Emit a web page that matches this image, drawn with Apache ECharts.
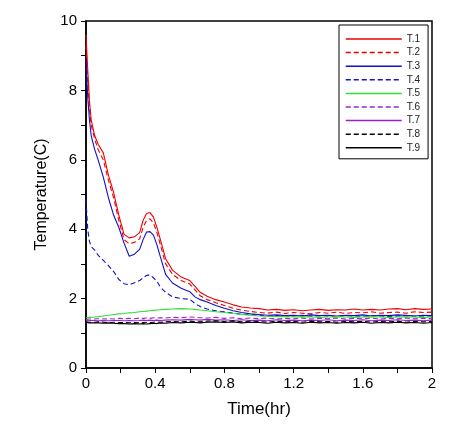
<!DOCTYPE html>
<html><head><meta charset="utf-8">
<script src="https://cdn.jsdelivr.net/npm/echarts@6/dist/echarts.min.js"></script>
<style>html,body{margin:0;padding:0;background:#fff}#c{width:471px;height:426px}</style>
</head><body><div id="c"></div>
<script>
var timeHr = [0,0.01,0.02,0.03,0.05,0.07,0.1,0.13,0.16,0.19,0.22,0.25,0.28,0.31,0.33,0.35,0.37,0.39,0.41,0.43,0.46,0.5,0.55,0.6,0.63,0.66,0.7,0.75,0.8,0.85,0.9,0.95,1.0,1.05,1.1,1.15,1.2,1.25,1.3,1.35,1.4,1.45,1.5,1.55,1.6,1.65,1.7,1.75,1.8,1.85,1.9,1.95,2.0];
var T1 = [9.6,8.6,7.7,7.15,6.7,6.45,6.2,5.55,5.05,4.4, 3.85,3.75,3.78,3.9,4.25,4.45,4.48,4.35,4.05,3.7, 3.15,2.82,2.62,2.52,2.35,2.18,2.07,1.97,1.9,1.82, 1.76,1.73, 1.71,1.67,1.69,1.66,1.68,1.65,1.67,1.69,1.66,1.68,1.67,1.7,1.67,1.69,1.67,1.7,1.71,1.68,1.71,1.69,1.7];
var T2 = [9.3,8.3,7.5,7.0,6.6,6.3,6.0,5.4,4.9,4.25, 3.7,3.58,3.62,3.72,4.05,4.25,4.3,4.18,3.9,3.55, 3.0,2.7,2.52,2.42,2.25,2.08,1.97,1.88,1.8,1.72, 1.67,1.63, 1.6,1.58,1.61,1.57,1.6,1.58,1.56,1.6,1.58,1.61,1.57,1.6,1.59,1.62,1.58,1.6,1.61,1.58,1.62,1.6,1.61];
var T3 = [8.9,7.8,7.15,6.7,6.3,6.0,5.5,4.9,4.4,4.05, 3.6,3.22,3.28,3.42,3.7,3.92,3.93,3.83,3.55,3.2, 2.7,2.45,2.3,2.2,2.05,1.97,1.9,1.8,1.72,1.65, 1.6,1.56, 1.54,1.52,1.53,1.51,1.52,1.5,1.53,1.51,1.52,1.5,1.52,1.51,1.53,1.5,1.52,1.51,1.53,1.52,1.5,1.52,1.51];
var T4 = [4.85,4.0,3.65,3.5,3.4,3.25,3.1,2.95,2.78,2.55, 2.43,2.4,2.46,2.52,2.6,2.67,2.68,2.6,2.5,2.33, 2.18,2.05,2.0,1.98,1.86,1.77,1.7,1.65,1.62,1.58, 1.55,1.53, 1.52,1.5,1.51,1.49,1.5,1.52,1.49,1.51,1.5,1.48,1.51,1.5,1.49,1.51,1.5,1.48,1.5,1.51,1.49,1.5,1.5];
var T5 = [1.45,1.45,1.46,1.46,1.47,1.48,1.5,1.52,1.54,1.56, 1.57,1.59,1.6,1.62,1.63,1.64,1.65,1.66,1.67,1.68, 1.69,1.7,1.71,1.7,1.69,1.67,1.65,1.62,1.6,1.57, 1.55,1.52, 1.5,1.49,1.48,1.48,1.47,1.48,1.47,1.46,1.47,1.48,1.47,1.46,1.47,1.48,1.47,1.46,1.47,1.48,1.47,1.46,1.47];
var T6 = [1.4,1.4,1.41,1.4,1.41,1.42,1.41,1.42,1.41,1.43, 1.42,1.43,1.42,1.44,1.43,1.44,1.43,1.45,1.44,1.45, 1.44,1.46,1.45,1.47,1.46,1.45,1.44,1.46,1.43,1.45, 1.42,1.44, 1.42,1.44,1.41,1.43,1.42,1.44,1.41,1.43,1.42,1.44,1.41,1.43,1.42,1.44,1.41,1.43,1.42,1.44,1.42,1.43,1.42];
var T7 = [1.36,1.36,1.37,1.36,1.37,1.36,1.37,1.36,1.37,1.37, 1.36,1.37,1.36,1.37,1.38,1.37,1.38,1.37,1.38,1.37, 1.38,1.39,1.38,1.4,1.39,1.38,1.4,1.38,1.39,1.37, 1.39,1.37, 1.38,1.36,1.39,1.37,1.38,1.36,1.38,1.37,1.39,1.36,1.38,1.37,1.39,1.36,1.38,1.37,1.39,1.37,1.38,1.36,1.38];
var T8 = [1.33,1.33,1.32,1.33,1.32,1.33,1.32,1.31,1.32,1.31, 1.31,1.3,1.31,1.3,1.31,1.32,1.31,1.32,1.33,1.32, 1.33,1.34,1.33,1.35,1.34,1.33,1.35,1.36,1.34,1.36, 1.33,1.35, 1.34,1.32,1.35,1.33,1.34,1.32,1.35,1.33,1.34,1.32,1.34,1.33,1.35,1.32,1.34,1.33,1.35,1.32,1.34,1.33,1.34];
var T9 = [1.31,1.31,1.3,1.31,1.3,1.3,1.29,1.3,1.29,1.28, 1.28,1.27,1.28,1.27,1.28,1.27,1.28,1.29,1.28,1.3, 1.29,1.31,1.3,1.32,1.31,1.3,1.32,1.33,1.31,1.33, 1.3,1.32, 1.31,1.29,1.32,1.3,1.31,1.29,1.32,1.3,1.31,1.29,1.31,1.3,1.32,1.29,1.31,1.3,1.32,1.3,1.31,1.29,1.31];

var seriesNames = ['T.1','T.2','T.3','T.4','T.5','T.6','T.7','T.8','T.9'];
var seriesValues = [T1,T2,T3,T4,T5,T6,T7,T8,T9];
var seriesColors = ['#ee0000','#ee0000','#1010c8','#1010c8','#33dd33','#9a22cc','#9a22cc','#000000','#000000'];
var seriesDashed = [false,true,false,true,false,true,false,true,false];

var FONT = 'Liberation Sans, Arial, sans-serif';
var series = seriesNames.map(function(n,i){
  return {
    name:n, type:'line', symbol:'none', showSymbol:false, smooth:false, animation:false,
    data: timeHr.map(function(t,j){return [t, seriesValues[i][j]];}),
    lineStyle:{color:seriesColors[i], width:1.1, type: seriesDashed[i]?[5,3]:'solid'},
    itemStyle:{color:seriesColors[i]}
  };
});

var chart = echarts.init(document.getElementById('c'), null, {renderer:'canvas'});
chart.setOption({
  animation:false,
  backgroundColor:'#fff',
  grid:{left:86, top:21, width:346, height:347, show:true, borderColor:'#000', borderWidth:1.5, backgroundColor:'transparent'},
  legend:{
    orient:'vertical', left:339, top:25, padding:[9,8,6,6],
    itemWidth:56, itemHeight:10, itemGap:3.6,
    borderColor:'#000', borderWidth:1, backgroundColor:'#fff',
    itemStyle:{opacity:0},
    lineStyle:{width:1.5},
    textStyle:{fontFamily:FONT, fontSize:10, color:'#222'},
    data: seriesNames
  },
  xAxis:{
    type:'value', min:0, max:2, interval:0.4,
    name:'Time(hr)', nameLocation:'middle', nameGap:33,
    nameTextStyle:{fontFamily:FONT, fontSize:17, color:'#000'},
    axisLine:{show:true, onZero:false, lineStyle:{color:'#000', width:1.5}},
    axisTick:{show:true, inside:false, length:5, lineStyle:{color:'#000', width:1}},
    minorTick:{show:true, splitNumber:2, length:5, lineStyle:{color:'#000', width:1}},
    axisLabel:{fontFamily:FONT, fontSize:15, color:'#000', margin:8},
    splitLine:{show:false}
  },
  yAxis:{
    type:'value', min:0, max:10, interval:2,
    name:'Temperature(C)', nameLocation:'middle', nameGap:36,
    nameTextStyle:{fontFamily:FONT, fontSize:16, color:'#000'},
    axisLine:{show:true, onZero:false, lineStyle:{color:'#000', width:1.5}},
    axisTick:{show:true, inside:false, length:5, lineStyle:{color:'#000', width:1}},
    minorTick:{show:true, splitNumber:2, length:5, lineStyle:{color:'#000', width:1}},
    axisLabel:{fontFamily:FONT, fontSize:15, color:'#000', margin:9},
    splitLine:{show:false}
  },
  series: series
});
</script></body></html>
